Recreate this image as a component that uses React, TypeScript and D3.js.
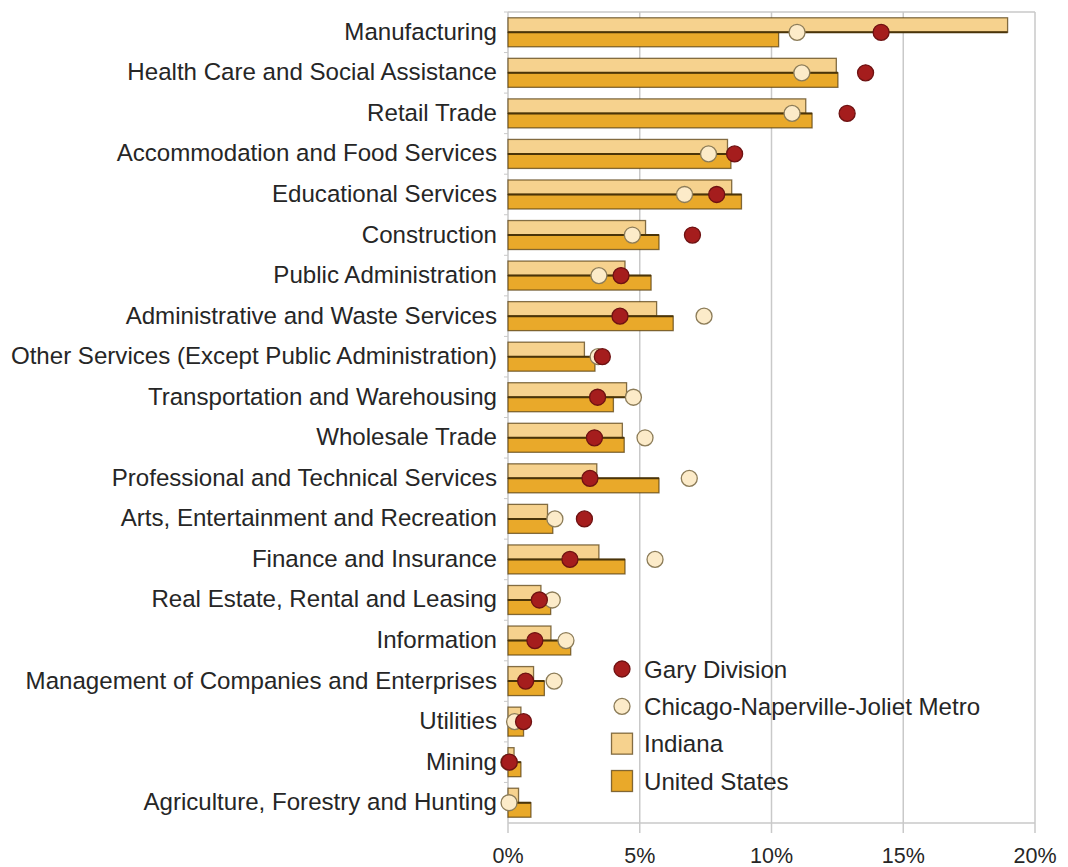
import * as d3 from "d3";

const categories = [
  "Manufacturing",
  "Health Care and Social Assistance",
  "Retail Trade",
  "Accommodation and Food Services",
  "Educational Services",
  "Construction",
  "Public Administration",
  "Administrative and Waste Services",
  "Other Services (Except Public Administration)",
  "Transportation and Warehousing",
  "Wholesale Trade",
  "Professional and Technical Services",
  "Arts, Entertainment and Recreation",
  "Finance and Insurance",
  "Real Estate, Rental and Leasing",
  "Information",
  "Management of Companies and Enterprises",
  "Utilities",
  "Mining",
  "Agriculture, Forestry and Hunting",
];

const indiana = [18.96, 12.46, 11.3, 8.33, 8.49, 5.22, 4.44, 5.64, 2.9, 4.5, 4.34, 3.37, 1.5, 3.45, 1.25, 1.63, 0.97, 0.49, 0.23, 0.4];
const unitedStates = [10.27, 12.52, 11.54, 8.46, 8.86, 5.73, 5.43, 6.27, 3.3, 4.0, 4.41, 5.73, 1.7, 4.44, 1.62, 2.38, 1.38, 0.59, 0.49, 0.87];
const chicago = [10.97, 11.15, 10.78, 7.61, 6.7, 4.72, 3.45, 7.44, 3.42, 4.76, 5.2, 6.88, 1.78, 5.58, 1.68, 2.2, 1.75, 0.25, 0.03, 0.04];
const gary: (number | null)[] = [14.16, 13.57, 12.87, 8.6, 7.92, 7.0, 4.29, 4.25, 3.58, 3.4, 3.28, 3.11, 2.9, 2.35, 1.19, 1.02, 0.67, 0.59, 0.05, null];

const xTicks = [0, 5, 10, 15, 20];
const legendItems = ["Gary Division", "Chicago-Naperville-Joliet Metro", "Indiana", "United States"];

const W = 1068;
const H = 867;
const font = "'Liberation Sans', Arial, Helvetica, sans-serif";

const C = {
  indiana: "#f6d28e",
  us: "#e9a92a",
  barStroke: "rgba(80,55,10,0.7)",
  midLine: "#4a3409",
  gary: "#a51d1d",
  garyStroke: "#6e1212",
  chicago: "#fcebc9",
  chicagoStroke: "#8c7c58",
  grid: "#c9c9c9",
  text: "#262626",
};

export default function App() {
  const margin = { top: 12, right: 33, bottom: 44, left: 508 };
  const x = d3.scaleLinear().domain([0, 20]).range([margin.left, W - margin.right]);
  const y = d3.scaleBand<string>().domain(categories).range([margin.top, H - margin.bottom]);
  const barH = 14.5;
  const r = 8;
  const plotTop = margin.top;
  const plotBottom = H - margin.bottom;

  const legendX = 622;
  const legendY = d3.scaleLinear().domain([0, 3]).range([669, 781]);

  return (
    <svg
      width={W}
      height={H}
      style={{ display: "block", position: "absolute", left: 0, top: 0, background: "#fff" }}
      fontFamily={font}
    >
      {/* grid */}
      {xTicks.slice(1).map((t) => (
        <line key={t} x1={x(t)} x2={x(t)} y1={plotTop} y2={plotBottom} stroke={C.grid} strokeWidth={1.5} />
      ))}
      <line x1={x(0)} x2={x(20)} y1={plotTop} y2={plotTop} stroke={C.grid} strokeWidth={1.5} />
      {/* axes */}
      <line x1={x(0)} x2={x(20)} y1={plotBottom} y2={plotBottom} stroke={C.grid} strokeWidth={1.5} />
      <line x1={x(0)} x2={x(0)} y1={plotTop} y2={plotBottom} stroke={C.grid} strokeWidth={1.5} />
      {categories.map((c) => (
        <line key={c} x1={x(0) - 4} x2={x(0)} y1={y(c)!} y2={y(c)!} stroke={C.grid} strokeWidth={1} />
      ))}
      {xTicks.map((t) => (
        <g key={t}>
          <line x1={x(t)} x2={x(t)} y1={plotBottom} y2={plotBottom + 10} stroke={C.grid} strokeWidth={1.5} />
          <text
            x={x(t)}
            y={plotBottom + 33}
            textAnchor="middle"
            dominantBaseline="central"
            fontSize={21.5}
            fill={C.text}
          >
            {t}%
          </text>
        </g>
      ))}

      {/* bars */}
      {categories.map((c, i) => {
        const cy = y(c)! + y.bandwidth() / 2;
        return (
          <g key={c}>
            <rect x={x(0)} y={cy - barH} width={x(indiana[i]) - x(0)} height={barH} fill={C.indiana} stroke={C.barStroke} strokeWidth={1.3} />
            <rect x={x(0)} y={cy} width={x(unitedStates[i]) - x(0)} height={barH} fill={C.us} stroke={C.barStroke} strokeWidth={1.3} />
            <line
              x1={x(0)}
              x2={x(Math.max(indiana[i], unitedStates[i]))}
              y1={cy}
              y2={cy}
              stroke={C.midLine}
              strokeWidth={2}
            />
          </g>
        );
      })}

      {/* dots */}
      {categories.map((c, i) => {
        const cy = y(c)! + y.bandwidth() / 2;
        const g = gary[i];
        return (
          <g key={c}>
            <circle cx={x(chicago[i])} cy={cy} r={r} fill={C.chicago} stroke={C.chicagoStroke} strokeWidth={1.3} />
            {g != null && <circle cx={x(g)} cy={cy} r={r} fill={C.gary} stroke={C.garyStroke} strokeWidth={1.3} />}
          </g>
        );
      })}

      {/* category labels */}
      {categories.map((c) => (
        <text
          key={c}
          x={497}
          y={y(c)! + y.bandwidth() / 2 - 1}
          textAnchor="end"
          dominantBaseline="central"
          fontSize={24.1}
          fill={C.text}
        >
          {c}
        </text>
      ))}

      {/* legend */}
      {legendItems.map((item, i) => {
        const ly = legendY(i);
        return (
          <g key={item}>
            {i === 0 && <circle cx={legendX} cy={ly} r={r} fill={C.gary} stroke={C.garyStroke} strokeWidth={1.3} />}
            {i === 1 && <circle cx={legendX} cy={ly} r={r} fill={C.chicago} stroke={C.chicagoStroke} strokeWidth={1.3} />}
            {i === 2 && <rect x={legendX - 10.5} y={ly - 10.5} width={21} height={21} fill={C.indiana} stroke={C.barStroke} strokeWidth={1.3} />}
            {i === 3 && <rect x={legendX - 10.5} y={ly - 10.5} width={21} height={21} fill={C.us} stroke={C.barStroke} strokeWidth={1.3} />}
            <text x={644} y={ly} dominantBaseline="central" fontSize={24.1} fill={C.text}>
              {item}
            </text>
          </g>
        );
      })}
    </svg>
  );
}
